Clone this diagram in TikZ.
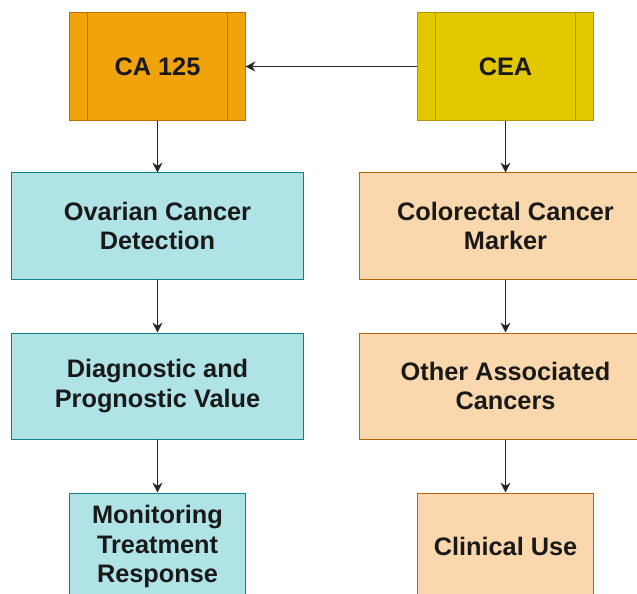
\documentclass[tikz,border=0pt]{standalone}
\usepackage{fontspec}
\setmainfont{Liberation Sans}
\usepackage{tikz}
\usetikzlibrary{arrows.meta,positioning,shapes}
\definecolor{caorange}{HTML}{F0A30A}
\definecolor{caline}{HTML}{BD7000}
\definecolor{ceayellow}{HTML}{E3C800}
\definecolor{cealine}{HTML}{B09500}
\definecolor{ovcyan}{HTML}{B0E3E6}
\definecolor{ovline}{HTML}{0E8088}
\definecolor{copeach}{HTML}{FAD7AC}
\definecolor{coline}{HTML}{B46504}
\tikzset{box/.style={draw, line width=0.7pt, align=center, inner sep=2pt,
    text=black!90, font=\fontsize{18}{21}\selectfont\bfseries},
  markerbox/.style={box, minimum width=4.375cm, minimum height=2.675cm,
    path picture={\draw[#1, line width=0.7pt]
      ([xshift=0.45cm]path picture bounding box.north west) -- ([xshift=0.45cm]path picture bounding box.south west)
      ([xshift=-0.45cm]path picture bounding box.north east) -- ([xshift=-0.45cm]path picture bounding box.south east);}},
  widebox/.style={box, minimum width=7.275cm, minimum height=2.65cm},
  smallbox/.style={box, minimum width=4.375cm, minimum height=2.675cm},
  link/.style={-{Stealth[length=7pt,width=7pt]}, line width=0.8pt, black!85}}
\begin{document}
\begin{tikzpicture}[x=0.025cm,y=-0.025cm]
\useasboundingbox (0,0) rectangle (637,593);
\clip (0,0) rectangle (637,593);

% markers
\node[markerbox=caline, fill=caorange, draw=caline] (ca) at (157.5,66.5) {CA 125};
\node[markerbox=cealine, fill=ceayellow, draw=cealine] (cea) at (505.5,66.5) {CEA};

% CA 125 column
\node[widebox, fill=ovcyan, draw=ovline] (ovar) at (157.5,226) {Ovarian Cancer\\Detection};
\node[widebox, fill=ovcyan, draw=ovline] (diag) at (157.5,386) {Diagnostic and\\Prognostic Value};
\node[smallbox, fill=ovcyan, draw=ovline] (mon) at (157.5,546.5) {Monitoring\\Treatment\\Response};

% CEA column
\node[widebox, fill=copeach, draw=coline] (colo) at (505.5,226) {Colorectal Cancer\\Marker};
\node[widebox, fill=copeach, draw=coline] (other) at (505.5,386) {Other Associated\\Cancers};
\node[smallbox, fill=copeach, draw=coline] (clin) at (505.5,546.5) {Clinical Use};

\draw[link] (cea) -- (ca);
\draw[link] (ca) -- (ovar);
\draw[link] (ovar) -- (diag);
\draw[link] (diag) -- (mon);
\draw[link] (cea) -- (colo);
\draw[link] (colo) -- (other);
\draw[link] (other) -- (clin);
\end{tikzpicture}
\end{document}
